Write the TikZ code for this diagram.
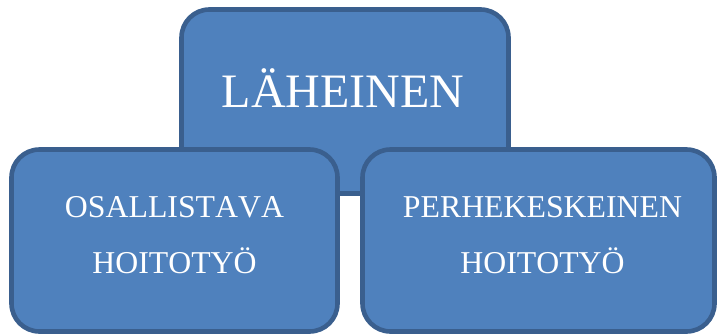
\documentclass[tikz,border=0pt]{standalone}
\usepackage{fontspec}
\setmainfont{Liberation Serif}[Kerning=Off]
\usetikzlibrary{calc}
\definecolor{boxfill}{HTML}{4F81BD}
\definecolor{boxline}{HTML}{3A5F8E}
\tikzset{
  card/.style={draw=boxline, fill=boxfill, line width=4.6pt, rounded corners=28pt,
    rectangle, inner sep=0pt, outer sep=0pt},
  bigtext/.style={text=white, font=\fontsize{48}{56}\selectfont, anchor=base, inner sep=0pt},
  smalltext/.style={text=white, font=\fontsize{31.8}{36}\selectfont, anchor=base, inner sep=0pt}
}
\begin{document}
\begin{tikzpicture}[x=1pt,y=-1pt]
  \useasboundingbox (0,0) rectangle (717,335);
  % upper concept box, drawn first so the two lower boxes overlap it
  \node[card, minimum width=327pt, minimum height=184pt] (top) at (345,101.5) {};
  \node[bigtext] (toptext) at ($(top.center)+(-2,5.5)$) {LÄHEINEN};
  % lower boxes
  \node[card, minimum width=326pt, minimum height=182pt] (left) at (174.5,240.5) {};
  \node[card, minimum width=352pt, minimum height=182pt] (right) at (538.5,240.5) {};
  \node[smalltext] (lefta) at ($(left.center)+(0,-23.5)$) {OSALLISTAVA};
  \node[smalltext] (leftb) at ($(left.center)+(0,32.5)$) {HOITOTYÖ};
  \node[smalltext] (righta) at ($(right.center)+(4,-23.5)$) {PERHEKESKEINEN};
  \node[smalltext] (rightb) at ($(right.center)+(4,32.5)$) {HOITOTYÖ};
\end{tikzpicture}
\end{document}
